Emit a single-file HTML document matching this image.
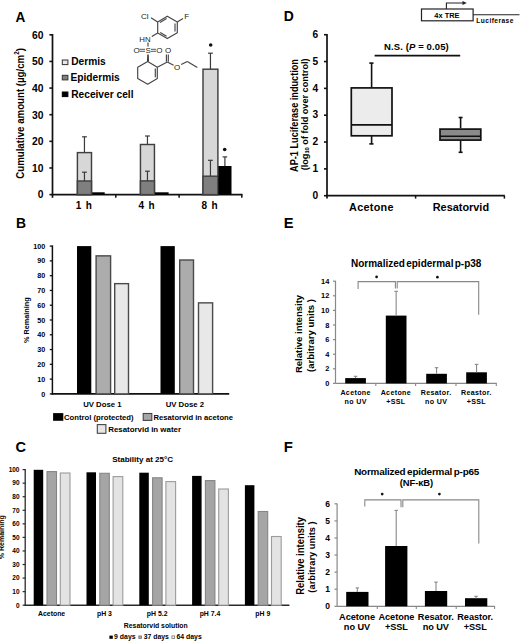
<!DOCTYPE html>
<html><head><meta charset="utf-8"><style>
html,body{margin:0;padding:0;background:#fff;}
svg{display:block;font-family:"Liberation Sans",sans-serif;}
</style></head><body>
<svg width="520" height="641" viewBox="0 0 520 641">
<rect width="520" height="641" fill="#fff"/>
<text x="0" y="0" font-size="14.8" text-anchor="start" font-weight="bold" fill="#000" transform="translate(15.60,21.50) scale(0.92,1)" >A</text>
<line x1="52.50" y1="34.00" x2="52.50" y2="197.80" stroke="#111" stroke-width="1.7" />
<line x1="49.40" y1="194.60" x2="52.50" y2="194.60" stroke="#111" stroke-width="1.6" />
<text x="0" y="0" font-size="10" text-anchor="end" font-weight="bold" fill="#000" transform="translate(43.50,198.40) scale(1.03,1)" >0</text>
<line x1="49.40" y1="167.97" x2="52.50" y2="167.97" stroke="#111" stroke-width="1.6" />
<text x="0" y="0" font-size="10" text-anchor="end" font-weight="bold" fill="#000" transform="translate(43.50,171.77) scale(1.03,1)" >10</text>
<line x1="49.40" y1="141.34" x2="52.50" y2="141.34" stroke="#111" stroke-width="1.6" />
<text x="0" y="0" font-size="10" text-anchor="end" font-weight="bold" fill="#000" transform="translate(43.50,145.14) scale(1.03,1)" >20</text>
<line x1="49.40" y1="114.71" x2="52.50" y2="114.71" stroke="#111" stroke-width="1.6" />
<text x="0" y="0" font-size="10" text-anchor="end" font-weight="bold" fill="#000" transform="translate(43.50,118.51) scale(1.03,1)" >30</text>
<line x1="49.40" y1="88.08" x2="52.50" y2="88.08" stroke="#111" stroke-width="1.6" />
<text x="0" y="0" font-size="10" text-anchor="end" font-weight="bold" fill="#000" transform="translate(43.50,91.88) scale(1.03,1)" >40</text>
<line x1="49.40" y1="61.45" x2="52.50" y2="61.45" stroke="#111" stroke-width="1.6" />
<text x="0" y="0" font-size="10" text-anchor="end" font-weight="bold" fill="#000" transform="translate(43.50,65.25) scale(1.03,1)" >50</text>
<line x1="49.40" y1="34.82" x2="52.50" y2="34.82" stroke="#111" stroke-width="1.6" />
<text x="0" y="0" font-size="10" text-anchor="end" font-weight="bold" fill="#000" transform="translate(43.50,38.62) scale(1.03,1)" >60</text>
<line x1="51.70" y1="194.60" x2="242.50" y2="194.60" stroke="#111" stroke-width="1.7" />
<line x1="115.80" y1="194.60" x2="115.80" y2="197.80" stroke="#111" stroke-width="1.5" />
<line x1="179.10" y1="194.60" x2="179.10" y2="197.80" stroke="#111" stroke-width="1.5" />
<line x1="241.80" y1="194.60" x2="241.80" y2="197.80" stroke="#111" stroke-width="1.5" />
<text x="0" y="0" font-size="9.7" text-anchor="middle" font-weight="bold" fill="#000" transform="translate(23.50,113.40) rotate(-90) scale(1,1.18)" >Cumulative amount (µg/cm<tspan font-size="6.3" dy="-3.5">2</tspan><tspan dy="3.5">)</tspan></text>
<rect x="77.40" y="152.60" width="14.10" height="42.00" fill="#d7d7d7" stroke="#404040" stroke-width="1.45"/>
<rect x="77.40" y="181.00" width="14.10" height="13.60" fill="#7f7f7f" stroke="#404040" stroke-width="1.45"/>
<rect x="92.20" y="192.30" width="12.50" height="2.30" fill="#000" stroke="none" stroke-width="1"/>
<line x1="84.45" y1="152.60" x2="84.45" y2="136.80" stroke="#3a3a3a" stroke-width="1.2" />
<line x1="82.05" y1="136.80" x2="86.85" y2="136.80" stroke="#3a3a3a" stroke-width="1.2" />
<line x1="84.45" y1="181.00" x2="84.45" y2="172.20" stroke="#3a3a3a" stroke-width="1.2" />
<line x1="82.05" y1="172.20" x2="86.85" y2="172.20" stroke="#3a3a3a" stroke-width="1.2" />
<rect x="140.45" y="144.50" width="14.00" height="50.10" fill="#d7d7d7" stroke="#404040" stroke-width="1.45"/>
<rect x="140.45" y="180.90" width="14.00" height="13.70" fill="#7f7f7f" stroke="#404040" stroke-width="1.45"/>
<rect x="155.00" y="192.30" width="13.60" height="2.30" fill="#000" stroke="none" stroke-width="1"/>
<line x1="147.45" y1="144.50" x2="147.45" y2="136.00" stroke="#3a3a3a" stroke-width="1.2" />
<line x1="145.05" y1="136.00" x2="149.85" y2="136.00" stroke="#3a3a3a" stroke-width="1.2" />
<line x1="147.45" y1="180.90" x2="147.45" y2="171.20" stroke="#3a3a3a" stroke-width="1.2" />
<line x1="145.05" y1="171.20" x2="149.85" y2="171.20" stroke="#3a3a3a" stroke-width="1.2" />
<rect x="203.00" y="69.20" width="14.90" height="125.40" fill="#d7d7d7" stroke="#404040" stroke-width="1.45"/>
<rect x="203.00" y="176.20" width="14.90" height="18.40" fill="#7f7f7f" stroke="#404040" stroke-width="1.45"/>
<rect x="218.30" y="166.00" width="13.20" height="28.60" fill="#000" stroke="none" stroke-width="1"/>
<line x1="210.45" y1="69.20" x2="210.45" y2="53.20" stroke="#3a3a3a" stroke-width="1.2" />
<line x1="208.05" y1="53.20" x2="212.85" y2="53.20" stroke="#3a3a3a" stroke-width="1.2" />
<line x1="210.45" y1="176.20" x2="210.45" y2="160.30" stroke="#3a3a3a" stroke-width="1.2" />
<line x1="208.05" y1="160.30" x2="212.85" y2="160.30" stroke="#3a3a3a" stroke-width="1.2" />
<line x1="224.90" y1="166.00" x2="224.90" y2="156.90" stroke="#3a3a3a" stroke-width="1.2" />
<line x1="222.60" y1="156.90" x2="227.20" y2="156.90" stroke="#3a3a3a" stroke-width="1.2" />
<circle cx="210.7" cy="45" r="1.8" fill="#111"/>
<circle cx="224.7" cy="149.5" r="1.8" fill="#111"/>
<rect x="62.30" y="60.00" width="5.60" height="4.60" fill="#e8e8e8" stroke="#333" stroke-width="1"/>
<rect x="62.30" y="75.30" width="5.60" height="4.60" fill="#808080" stroke="#333" stroke-width="1"/>
<rect x="62.30" y="92.00" width="5.60" height="4.60" fill="#000" stroke="#000" stroke-width="1"/>
<text x="71.20" y="64.50" font-size="10.2" text-anchor="start" font-weight="bold" fill="#000" >Dermis</text>
<text x="70.50" y="80.80" font-size="10.2" text-anchor="start" font-weight="bold" fill="#000" >Epidermis</text>
<text x="71.20" y="97.70" font-size="10.2" text-anchor="start" font-weight="bold" fill="#000" >Receiver cell</text>
<path d="M167.30,16.20 L177.30,21.90 L177.30,32.70 L167.30,38.60 L157.70,32.90 L157.70,21.90 Z" fill="none" stroke="#454545" stroke-width="1.15" stroke-linejoin="round"/>
<line x1="160.00" y1="22.40" x2="166.60" y2="18.40" stroke="#454545" stroke-width="1.15" />
<line x1="175.00" y1="23.40" x2="175.00" y2="31.40" stroke="#454545" stroke-width="1.15" />
<line x1="160.20" y1="32.40" x2="166.60" y2="36.20" stroke="#454545" stroke-width="1.15" />
<line x1="157.70" y1="21.90" x2="151.00" y2="17.80" stroke="#454545" stroke-width="1.15" />
<line x1="177.30" y1="21.90" x2="183.00" y2="18.60" stroke="#454545" stroke-width="1.15" />
<line x1="157.70" y1="32.90" x2="151.80" y2="36.60" stroke="#454545" stroke-width="1.15" />
<text x="140.90" y="19.40" font-size="8.0" text-anchor="start" font-weight="normal" fill="#222" >Cl</text>
<text x="184.30" y="18.90" font-size="8.0" text-anchor="start" font-weight="normal" fill="#222" >F</text>
<text x="139.30" y="41.70" font-size="7.8" text-anchor="start" font-weight="normal" fill="#222" >HN</text>
<line x1="148.00" y1="42.60" x2="148.00" y2="46.40" stroke="#454545" stroke-width="1.15" />
<text x="133.60" y="53.20" font-size="8.0" text-anchor="start" font-weight="normal" fill="#222" >O</text>
<text x="145.60" y="53.20" font-size="8.0" text-anchor="start" font-weight="normal" fill="#222" >S</text>
<text x="156.30" y="53.20" font-size="8.0" text-anchor="start" font-weight="normal" fill="#222" >O</text>
<line x1="139.60" y1="49.30" x2="145.00" y2="49.30" stroke="#454545" stroke-width="0.9" />
<line x1="139.60" y1="51.30" x2="145.00" y2="51.30" stroke="#454545" stroke-width="0.9" />
<line x1="151.00" y1="49.30" x2="156.00" y2="49.30" stroke="#454545" stroke-width="0.9" />
<line x1="151.00" y1="51.30" x2="156.00" y2="51.30" stroke="#454545" stroke-width="0.9" />
<path d="M147.3,54.5 L148.7,54.5 L148.9,61.5 L147.1,61.5 Z" fill="#222"/>
<path d="M147.70,61.50 L157.30,67.30 L157.30,78.50 L147.70,84.20 L137.70,78.50 L137.70,67.30 Z" fill="none" stroke="#454545" stroke-width="1.15" stroke-linejoin="round"/>
<line x1="155.30" y1="68.60" x2="155.30" y2="77.20" stroke="#454545" stroke-width="1.15" />
<line x1="157.30" y1="67.30" x2="167.30" y2="62.00" stroke="#454545" stroke-width="1.15" />
<line x1="166.40" y1="61.80" x2="166.40" y2="54.40" stroke="#454545" stroke-width="1.15" />
<line x1="168.30" y1="61.80" x2="168.30" y2="54.40" stroke="#454545" stroke-width="1.15" />
<text x="165.00" y="52.80" font-size="8.0" text-anchor="start" font-weight="normal" fill="#222" >O</text>
<line x1="167.30" y1="62.00" x2="173.60" y2="65.20" stroke="#454545" stroke-width="1.15" />
<text x="174.00" y="69.80" font-size="8.0" text-anchor="start" font-weight="normal" fill="#222" >O</text>
<line x1="181.20" y1="64.60" x2="187.30" y2="61.40" stroke="#454545" stroke-width="1.15" />
<line x1="187.30" y1="61.40" x2="197.30" y2="67.60" stroke="#454545" stroke-width="1.15" />
<text x="84.20" y="209.20" font-size="10" text-anchor="middle" font-weight="bold" fill="#000" letter-spacing="0.8">1 h</text>
<text x="147.00" y="209.20" font-size="10" text-anchor="middle" font-weight="bold" fill="#000" letter-spacing="0.8">4 h</text>
<text x="209.90" y="209.20" font-size="10" text-anchor="middle" font-weight="bold" fill="#000" letter-spacing="0.8">8 h</text>
<text x="16.10" y="227.90" font-size="13.9" text-anchor="start" font-weight="bold" fill="#000" >B</text>
<line x1="52.40" y1="245.40" x2="52.40" y2="394.70" stroke="#111" stroke-width="1.5" />
<line x1="49.80" y1="393.90" x2="52.40" y2="393.90" stroke="#111" stroke-width="1.3" />
<text x="45.30" y="396.50" font-size="7.2" text-anchor="end" font-weight="bold" fill="#000" >0</text>
<line x1="49.80" y1="379.12" x2="52.40" y2="379.12" stroke="#111" stroke-width="1.3" />
<text x="45.30" y="381.72" font-size="7.2" text-anchor="end" font-weight="bold" fill="#000" >10</text>
<line x1="49.80" y1="364.34" x2="52.40" y2="364.34" stroke="#111" stroke-width="1.3" />
<text x="45.30" y="366.94" font-size="7.2" text-anchor="end" font-weight="bold" fill="#000" >20</text>
<line x1="49.80" y1="349.56" x2="52.40" y2="349.56" stroke="#111" stroke-width="1.3" />
<text x="45.30" y="352.16" font-size="7.2" text-anchor="end" font-weight="bold" fill="#000" >30</text>
<line x1="49.80" y1="334.78" x2="52.40" y2="334.78" stroke="#111" stroke-width="1.3" />
<text x="45.30" y="337.38" font-size="7.2" text-anchor="end" font-weight="bold" fill="#000" >40</text>
<line x1="49.80" y1="320.00" x2="52.40" y2="320.00" stroke="#111" stroke-width="1.3" />
<text x="45.30" y="322.60" font-size="7.2" text-anchor="end" font-weight="bold" fill="#000" >50</text>
<line x1="49.80" y1="305.22" x2="52.40" y2="305.22" stroke="#111" stroke-width="1.3" />
<text x="45.30" y="307.82" font-size="7.2" text-anchor="end" font-weight="bold" fill="#000" >60</text>
<line x1="49.80" y1="290.44" x2="52.40" y2="290.44" stroke="#111" stroke-width="1.3" />
<text x="45.30" y="293.04" font-size="7.2" text-anchor="end" font-weight="bold" fill="#000" >70</text>
<line x1="49.80" y1="275.66" x2="52.40" y2="275.66" stroke="#111" stroke-width="1.3" />
<text x="45.30" y="278.26" font-size="7.2" text-anchor="end" font-weight="bold" fill="#000" >80</text>
<line x1="49.80" y1="260.88" x2="52.40" y2="260.88" stroke="#111" stroke-width="1.3" />
<text x="45.30" y="263.48" font-size="7.2" text-anchor="end" font-weight="bold" fill="#000" >90</text>
<line x1="49.80" y1="246.10" x2="52.40" y2="246.10" stroke="#111" stroke-width="1.3" />
<text x="45.30" y="248.70" font-size="7.2" text-anchor="end" font-weight="bold" fill="#000" >100</text>
<line x1="51.70" y1="393.90" x2="229.20" y2="393.90" stroke="#111" stroke-width="1.6" />
<text x="0" y="0" font-size="7.25" text-anchor="middle" font-weight="bold" fill="#000" transform="translate(28.80,320.20) rotate(-90)" >% Remaining</text>
<rect x="77.00" y="246.10" width="14.30" height="147.80" fill="#000" stroke="none" stroke-width="1"/>
<rect x="96.10" y="255.86" width="14.50" height="138.04" fill="#acacac" stroke="#4a4a4a" stroke-width="1.4"/>
<rect x="114.70" y="283.65" width="13.80" height="110.25" fill="#e8e8e8" stroke="#4a4a4a" stroke-width="1.4"/>
<rect x="160.50" y="246.10" width="14.30" height="147.80" fill="#000" stroke="none" stroke-width="1"/>
<rect x="179.70" y="260.00" width="13.80" height="133.90" fill="#acacac" stroke="#4a4a4a" stroke-width="1.4"/>
<rect x="198.50" y="302.86" width="14.10" height="91.04" fill="#e8e8e8" stroke="#4a4a4a" stroke-width="1.4"/>
<text x="102.30" y="406.60" font-size="7.75" text-anchor="middle" font-weight="bold" fill="#000" >UV Dose 1</text>
<text x="184.80" y="406.60" font-size="7.75" text-anchor="middle" font-weight="bold" fill="#000" >UV Dose 2</text>
<rect x="53.10" y="413.10" width="10.20" height="7.70" fill="#000" stroke="none" stroke-width="1"/>
<text x="64.00" y="420.20" font-size="7.7" text-anchor="start" font-weight="bold" fill="#000" >Control (protected)</text>
<rect x="143.20" y="413.50" width="8.60" height="6.90" fill="#a6a6a6" stroke="#444" stroke-width="1.1"/>
<text x="153.60" y="420.20" font-size="7.65" text-anchor="start" font-weight="bold" fill="#000" >Resatorvid in acetone</text>
<rect x="97.30" y="424.60" width="8.60" height="8.70" fill="#e6e6e6" stroke="#444" stroke-width="1.1"/>
<text x="108.20" y="432.40" font-size="7.9" text-anchor="start" font-weight="bold" fill="#000" >Resatorvid in water</text>
<text x="15.50" y="452.40" font-size="14.6" text-anchor="start" font-weight="bold" fill="#000" >C</text>
<line x1="25.20" y1="469.00" x2="25.20" y2="605.70" stroke="#2a2a2a" stroke-width="1.3" />
<line x1="22.60" y1="605.20" x2="25.20" y2="605.20" stroke="#2a2a2a" stroke-width="1.2" />
<text x="19.50" y="607.50" font-size="6.5" text-anchor="end" font-weight="bold" fill="#000" >0</text>
<line x1="22.60" y1="591.64" x2="25.20" y2="591.64" stroke="#2a2a2a" stroke-width="1.2" />
<text x="19.50" y="593.94" font-size="6.5" text-anchor="end" font-weight="bold" fill="#000" >10</text>
<line x1="22.60" y1="578.08" x2="25.20" y2="578.08" stroke="#2a2a2a" stroke-width="1.2" />
<text x="19.50" y="580.38" font-size="6.5" text-anchor="end" font-weight="bold" fill="#000" >20</text>
<line x1="22.60" y1="564.52" x2="25.20" y2="564.52" stroke="#2a2a2a" stroke-width="1.2" />
<text x="19.50" y="566.82" font-size="6.5" text-anchor="end" font-weight="bold" fill="#000" >30</text>
<line x1="22.60" y1="550.96" x2="25.20" y2="550.96" stroke="#2a2a2a" stroke-width="1.2" />
<text x="19.50" y="553.26" font-size="6.5" text-anchor="end" font-weight="bold" fill="#000" >40</text>
<line x1="22.60" y1="537.40" x2="25.20" y2="537.40" stroke="#2a2a2a" stroke-width="1.2" />
<text x="19.50" y="539.70" font-size="6.5" text-anchor="end" font-weight="bold" fill="#000" >50</text>
<line x1="22.60" y1="523.84" x2="25.20" y2="523.84" stroke="#2a2a2a" stroke-width="1.2" />
<text x="19.50" y="526.14" font-size="6.5" text-anchor="end" font-weight="bold" fill="#000" >60</text>
<line x1="22.60" y1="510.28" x2="25.20" y2="510.28" stroke="#2a2a2a" stroke-width="1.2" />
<text x="19.50" y="512.58" font-size="6.5" text-anchor="end" font-weight="bold" fill="#000" >70</text>
<line x1="22.60" y1="496.72" x2="25.20" y2="496.72" stroke="#2a2a2a" stroke-width="1.2" />
<text x="19.50" y="499.02" font-size="6.5" text-anchor="end" font-weight="bold" fill="#000" >80</text>
<line x1="22.60" y1="483.16" x2="25.20" y2="483.16" stroke="#2a2a2a" stroke-width="1.2" />
<text x="19.50" y="485.46" font-size="6.5" text-anchor="end" font-weight="bold" fill="#000" >90</text>
<line x1="22.60" y1="469.60" x2="25.20" y2="469.60" stroke="#2a2a2a" stroke-width="1.2" />
<text x="19.50" y="471.90" font-size="6.5" text-anchor="end" font-weight="bold" fill="#000" >100</text>
<line x1="24.60" y1="605.20" x2="289.40" y2="605.20" stroke="#2a2a2a" stroke-width="1.4" />
<text x="0" y="0" font-size="7.05" text-anchor="middle" font-weight="bold" fill="#000" transform="translate(3.70,537.20) rotate(-90)" >% Remaining</text>
<rect x="33.70" y="469.80" width="9.50" height="135.40" fill="#000" stroke="none" stroke-width="1"/>
<rect x="47.00" y="471.60" width="9.50" height="133.60" fill="#a5a5a5" stroke="#858585" stroke-width="1.1"/>
<rect x="60.30" y="473.00" width="9.70" height="132.20" fill="#e3e3e3" stroke="#9c9c9c" stroke-width="1.1"/>
<rect x="86.50" y="472.30" width="9.50" height="132.90" fill="#000" stroke="none" stroke-width="1"/>
<rect x="99.80" y="473.30" width="9.50" height="131.90" fill="#a5a5a5" stroke="#858585" stroke-width="1.1"/>
<rect x="113.10" y="476.60" width="9.70" height="128.60" fill="#e3e3e3" stroke="#9c9c9c" stroke-width="1.1"/>
<rect x="139.30" y="472.70" width="9.50" height="132.50" fill="#000" stroke="none" stroke-width="1"/>
<rect x="152.60" y="477.80" width="9.50" height="127.40" fill="#a5a5a5" stroke="#858585" stroke-width="1.1"/>
<rect x="165.90" y="481.60" width="9.70" height="123.60" fill="#e3e3e3" stroke="#9c9c9c" stroke-width="1.1"/>
<rect x="192.10" y="475.90" width="9.50" height="129.30" fill="#000" stroke="none" stroke-width="1"/>
<rect x="205.40" y="480.60" width="9.50" height="124.60" fill="#a5a5a5" stroke="#858585" stroke-width="1.1"/>
<rect x="218.70" y="489.00" width="9.70" height="116.20" fill="#e3e3e3" stroke="#9c9c9c" stroke-width="1.1"/>
<rect x="244.90" y="485.20" width="9.50" height="120.00" fill="#000" stroke="none" stroke-width="1"/>
<rect x="258.20" y="511.50" width="9.50" height="93.70" fill="#a5a5a5" stroke="#858585" stroke-width="1.1"/>
<rect x="271.50" y="536.50" width="9.70" height="68.70" fill="#e3e3e3" stroke="#9c9c9c" stroke-width="1.1"/>
<text x="142.60" y="462.20" font-size="8.05" text-anchor="middle" font-weight="bold" fill="#000" >Stability at 25°C</text>
<text x="51.60" y="615.80" font-size="6.9" text-anchor="middle" font-weight="bold" fill="#000" >Acetone</text>
<text x="104.40" y="615.80" font-size="6.9" text-anchor="middle" font-weight="bold" fill="#000" >pH 3</text>
<text x="157.20" y="615.80" font-size="6.9" text-anchor="middle" font-weight="bold" fill="#000" >pH 5.2</text>
<text x="210.00" y="615.80" font-size="6.9" text-anchor="middle" font-weight="bold" fill="#000" >pH 7.4</text>
<text x="262.80" y="615.80" font-size="6.9" text-anchor="middle" font-weight="bold" fill="#000" >pH 9</text>
<text x="155.80" y="628.20" font-size="6.85" text-anchor="middle" font-weight="bold" fill="#000" >Resatorvid solution</text>
<rect x="109.40" y="635.60" width="3.40" height="3.20" fill="#000" stroke="none" stroke-width="1"/>
<text x="114.10" y="639.40" font-size="6.9" text-anchor="start" font-weight="bold" fill="#000" >9 days</text>
<rect x="138.80" y="635.90" width="2.80" height="2.70" fill="#a3a3a3" stroke="#666" stroke-width="0.7"/>
<text x="143.70" y="639.40" font-size="6.85" text-anchor="start" font-weight="bold" fill="#000" >37 days</text>
<rect x="171.90" y="635.90" width="2.80" height="2.70" fill="#f4f4f4" stroke="#666" stroke-width="0.7"/>
<text x="176.50" y="639.40" font-size="6.9" text-anchor="start" font-weight="bold" fill="#000" >64 days</text>
<text x="283.70" y="21.20" font-size="13.9" text-anchor="start" font-weight="bold" fill="#000" >D</text>
<line x1="327.00" y1="34.00" x2="327.00" y2="198.60" stroke="#111" stroke-width="1.7" />
<line x1="324.00" y1="195.70" x2="327.00" y2="195.70" stroke="#111" stroke-width="1.6" />
<text x="318.20" y="198.90" font-size="10.2" text-anchor="end" font-weight="bold" fill="#000" >0</text>
<line x1="324.00" y1="168.87" x2="327.00" y2="168.87" stroke="#111" stroke-width="1.6" />
<text x="318.20" y="172.07" font-size="10.2" text-anchor="end" font-weight="bold" fill="#000" >1</text>
<line x1="324.00" y1="142.04" x2="327.00" y2="142.04" stroke="#111" stroke-width="1.6" />
<text x="318.20" y="145.24" font-size="10.2" text-anchor="end" font-weight="bold" fill="#000" >2</text>
<line x1="324.00" y1="115.21" x2="327.00" y2="115.21" stroke="#111" stroke-width="1.6" />
<text x="318.20" y="118.41" font-size="10.2" text-anchor="end" font-weight="bold" fill="#000" >3</text>
<line x1="324.00" y1="88.38" x2="327.00" y2="88.38" stroke="#111" stroke-width="1.6" />
<text x="318.20" y="91.58" font-size="10.2" text-anchor="end" font-weight="bold" fill="#000" >4</text>
<line x1="324.00" y1="61.55" x2="327.00" y2="61.55" stroke="#111" stroke-width="1.6" />
<text x="318.20" y="64.75" font-size="10.2" text-anchor="end" font-weight="bold" fill="#000" >5</text>
<line x1="324.00" y1="34.72" x2="327.00" y2="34.72" stroke="#111" stroke-width="1.6" />
<text x="318.20" y="37.92" font-size="10.2" text-anchor="end" font-weight="bold" fill="#000" >6</text>
<line x1="326.20" y1="195.70" x2="504.80" y2="195.70" stroke="#111" stroke-width="1.7" />
<line x1="415.60" y1="195.70" x2="415.60" y2="198.60" stroke="#111" stroke-width="1.5" />
<line x1="504.40" y1="195.70" x2="504.40" y2="198.60" stroke="#111" stroke-width="1.5" />
<text x="0" y="0" font-size="9.15" text-anchor="middle" font-weight="bold" fill="#000" transform="translate(298.10,115.50) rotate(-90) scale(1,1.1)" >AP-1 Luciferase induction</text>
<text x="0" y="0" font-size="9.15" text-anchor="middle" font-weight="bold" fill="#000" transform="translate(307.80,114.40) rotate(-90)" >(log<tspan font-size="5.8" dy="1.5">10</tspan><tspan dy="-1.5"> of fold over control)</tspan></text>
<line x1="371.60" y1="87.60" x2="371.60" y2="63.10" stroke="#111" stroke-width="1.6" />
<line x1="369.30" y1="63.10" x2="373.50" y2="63.10" stroke="#111" stroke-width="1.6" />
<line x1="371.60" y1="135.70" x2="371.60" y2="143.90" stroke="#111" stroke-width="1.6" />
<line x1="369.30" y1="143.90" x2="373.50" y2="143.90" stroke="#111" stroke-width="1.6" />
<rect x="351.30" y="87.90" width="40.70" height="47.90" fill="#ececec" stroke="#111" stroke-width="1.7"/>
<line x1="351.30" y1="124.80" x2="392.00" y2="124.80" stroke="#111" stroke-width="1.7" />
<line x1="460.60" y1="128.30" x2="460.60" y2="117.50" stroke="#111" stroke-width="1.6" />
<line x1="458.60" y1="117.50" x2="462.60" y2="117.50" stroke="#111" stroke-width="1.6" />
<line x1="460.60" y1="140.80" x2="460.60" y2="152.30" stroke="#111" stroke-width="1.6" />
<line x1="458.60" y1="152.30" x2="462.60" y2="152.30" stroke="#111" stroke-width="1.6" />
<rect x="440.00" y="129.10" width="40.80" height="11.00" fill="#8a8a8a" stroke="#111" stroke-width="1.7"/>
<line x1="440.00" y1="136.30" x2="480.80" y2="136.30" stroke="#111" stroke-width="1.6" />
<line x1="374.60" y1="55.60" x2="460.20" y2="55.60" stroke="#111" stroke-width="1.7" />
<text x="416.40" y="50.00" font-size="9.5" text-anchor="middle" font-weight="bold" fill="#000" letter-spacing="0.12">N.S. (<tspan font-style="italic">P</tspan> = 0.05)</text>
<text x="371.40" y="211.30" font-size="10.8" text-anchor="middle" font-weight="bold" fill="#000" letter-spacing="0.3">Acetone</text>
<text x="460.90" y="211.30" font-size="10.9" text-anchor="middle" font-weight="bold" fill="#000" >Resatorvid</text>
<rect x="421.50" y="9.00" width="51.60" height="11.80" fill="#fff" stroke="#222" stroke-width="1.2"/>
<line x1="473.10" y1="14.80" x2="519.50" y2="14.80" stroke="#222" stroke-width="1.1" />
<path d="M446.4,9 L446.4,3 L464,3" fill="none" stroke="#222" stroke-width="1.1"/>
<path d="M466.8,3 L462.5,0.9 L462.5,5.1 Z" fill="#222"/>
<text x="446.90" y="17.60" font-size="7.4" text-anchor="middle" font-weight="bold" fill="#000" >4x TRE</text>
<text x="495.10" y="23.30" font-size="6.6" text-anchor="middle" font-weight="bold" fill="#000" letter-spacing="0.45">Luciferase</text>
<text x="283.70" y="228.00" font-size="14.7" text-anchor="start" font-weight="bold" fill="#000" >E</text>
<text x="416.20" y="267.00" font-size="10" text-anchor="middle" font-weight="bold" fill="#000" word-spacing="-1.5">Normalized epidermal p-p38</text>
<line x1="335.50" y1="280.80" x2="335.50" y2="383.40" stroke="#888" stroke-width="1.2" />
<line x1="333.00" y1="383.40" x2="335.50" y2="383.40" stroke="#888" stroke-width="1.2" />
<text x="329.30" y="386.00" font-size="7.4" text-anchor="end" font-weight="bold" fill="#000" >0</text>
<line x1="333.00" y1="368.80" x2="335.50" y2="368.80" stroke="#888" stroke-width="1.2" />
<text x="329.30" y="371.40" font-size="7.4" text-anchor="end" font-weight="bold" fill="#000" >2</text>
<line x1="333.00" y1="354.20" x2="335.50" y2="354.20" stroke="#888" stroke-width="1.2" />
<text x="329.30" y="356.80" font-size="7.4" text-anchor="end" font-weight="bold" fill="#000" >4</text>
<line x1="333.00" y1="339.60" x2="335.50" y2="339.60" stroke="#888" stroke-width="1.2" />
<text x="329.30" y="342.20" font-size="7.4" text-anchor="end" font-weight="bold" fill="#000" >6</text>
<line x1="333.00" y1="325.00" x2="335.50" y2="325.00" stroke="#888" stroke-width="1.2" />
<text x="329.30" y="327.60" font-size="7.4" text-anchor="end" font-weight="bold" fill="#000" >8</text>
<line x1="333.00" y1="310.40" x2="335.50" y2="310.40" stroke="#888" stroke-width="1.2" />
<text x="329.30" y="313.00" font-size="7.4" text-anchor="end" font-weight="bold" fill="#000" >10</text>
<line x1="333.00" y1="295.80" x2="335.50" y2="295.80" stroke="#888" stroke-width="1.2" />
<text x="329.30" y="298.40" font-size="7.4" text-anchor="end" font-weight="bold" fill="#000" >12</text>
<line x1="333.00" y1="281.20" x2="335.50" y2="281.20" stroke="#888" stroke-width="1.2" />
<text x="329.30" y="283.80" font-size="7.4" text-anchor="end" font-weight="bold" fill="#000" >14</text>
<line x1="335.50" y1="383.40" x2="496.80" y2="383.40" stroke="#888" stroke-width="1.2" />
<line x1="375.80" y1="383.40" x2="375.80" y2="386.00" stroke="#888" stroke-width="1.1" />
<line x1="415.60" y1="383.40" x2="415.60" y2="386.00" stroke="#888" stroke-width="1.1" />
<line x1="456.00" y1="383.40" x2="456.00" y2="386.00" stroke="#888" stroke-width="1.1" />
<line x1="496.30" y1="383.40" x2="496.30" y2="386.00" stroke="#888" stroke-width="1.1" />
<rect x="345.20" y="378.10" width="20.70" height="5.30" fill="#000" stroke="none" stroke-width="1"/>
<line x1="355.55" y1="378.10" x2="355.55" y2="376.30" stroke="#888" stroke-width="1.1" />
<line x1="353.75" y1="376.30" x2="357.35" y2="376.30" stroke="#888" stroke-width="1.1" />
<rect x="385.80" y="315.60" width="20.70" height="67.80" fill="#000" stroke="none" stroke-width="1"/>
<line x1="396.15" y1="315.60" x2="396.15" y2="291.30" stroke="#888" stroke-width="1.1" />
<line x1="394.35" y1="291.30" x2="397.95" y2="291.30" stroke="#888" stroke-width="1.1" />
<rect x="426.20" y="373.80" width="20.70" height="9.60" fill="#000" stroke="none" stroke-width="1"/>
<line x1="436.55" y1="373.80" x2="436.55" y2="367.70" stroke="#888" stroke-width="1.1" />
<line x1="434.75" y1="367.70" x2="438.35" y2="367.70" stroke="#888" stroke-width="1.1" />
<rect x="466.20" y="372.30" width="20.70" height="11.10" fill="#000" stroke="none" stroke-width="1"/>
<line x1="476.55" y1="372.30" x2="476.55" y2="364.40" stroke="#888" stroke-width="1.1" />
<line x1="474.75" y1="364.40" x2="478.35" y2="364.40" stroke="#888" stroke-width="1.1" />
<path d="M358.1,289 L358.1,281.6 L395.4,281.6 L395.4,288.6" fill="none" stroke="#888" stroke-width="1.1"/>
<path d="M397.2,288.6 L397.2,281.6 L478.7,281.6 L478.7,314.8" fill="none" stroke="#888" stroke-width="1.1"/>
<circle cx="376.6" cy="276.9" r="1.35" fill="#111"/>
<circle cx="437.4" cy="277.2" r="1.35" fill="#111"/>
<text x="355.60" y="395.30" font-size="7.1" text-anchor="middle" font-weight="bold" fill="#000" letter-spacing="0.35">Acetone</text>
<text x="355.60" y="404.30" font-size="7.1" text-anchor="middle" font-weight="bold" fill="#000" letter-spacing="0.35">no UV</text>
<text x="395.85" y="395.30" font-size="7.1" text-anchor="middle" font-weight="bold" fill="#000" letter-spacing="0.35">Acetone</text>
<text x="395.85" y="404.30" font-size="7.1" text-anchor="middle" font-weight="bold" fill="#000" letter-spacing="0.35">+SSL</text>
<text x="436.10" y="395.30" font-size="7.1" text-anchor="middle" font-weight="bold" fill="#000" letter-spacing="0.35">Resator.</text>
<text x="436.10" y="404.30" font-size="7.1" text-anchor="middle" font-weight="bold" fill="#000" letter-spacing="0.35">no UV</text>
<text x="476.35" y="395.30" font-size="7.1" text-anchor="middle" font-weight="bold" fill="#000" letter-spacing="0.35">Reastor.</text>
<text x="476.35" y="404.30" font-size="7.1" text-anchor="middle" font-weight="bold" fill="#000" letter-spacing="0.35">+SSL</text>
<text x="0" y="0" font-size="9.5" text-anchor="middle" font-weight="bold" fill="#000" transform="translate(302.30,334.00) rotate(-90)" >Relative intensity</text>
<text x="0" y="0" font-size="9.5" text-anchor="middle" font-weight="bold" fill="#000" transform="translate(314.40,335.50) rotate(-90)" >(arbitrary units )</text>
<text x="283.70" y="452.20" font-size="14.9" text-anchor="start" font-weight="bold" fill="#000" >F</text>
<text x="416.60" y="475.00" font-size="9.9" text-anchor="middle" font-weight="bold" fill="#000" letter-spacing="-0.2" word-spacing="-0.8">Normalized epidermal p-p65</text>
<text x="416.40" y="486.40" font-size="9.4" text-anchor="middle" font-weight="bold" fill="#000" letter-spacing="-0.1">(NF-κB)</text>
<line x1="337.10" y1="503.40" x2="337.10" y2="606.30" stroke="#888" stroke-width="1.2" />
<line x1="334.50" y1="606.30" x2="337.10" y2="606.30" stroke="#888" stroke-width="1.2" />
<text x="330.20" y="609.30" font-size="8.5" text-anchor="end" font-weight="bold" fill="#000" letter-spacing="0.3">0</text>
<line x1="334.50" y1="589.22" x2="337.10" y2="589.22" stroke="#888" stroke-width="1.2" />
<text x="330.20" y="592.22" font-size="8.5" text-anchor="end" font-weight="bold" fill="#000" letter-spacing="0.3">1</text>
<line x1="334.50" y1="572.14" x2="337.10" y2="572.14" stroke="#888" stroke-width="1.2" />
<text x="330.20" y="575.14" font-size="8.5" text-anchor="end" font-weight="bold" fill="#000" letter-spacing="0.3">2</text>
<line x1="334.50" y1="555.06" x2="337.10" y2="555.06" stroke="#888" stroke-width="1.2" />
<text x="330.20" y="558.06" font-size="8.5" text-anchor="end" font-weight="bold" fill="#000" letter-spacing="0.3">3</text>
<line x1="334.50" y1="537.98" x2="337.10" y2="537.98" stroke="#888" stroke-width="1.2" />
<text x="330.20" y="540.98" font-size="8.5" text-anchor="end" font-weight="bold" fill="#000" letter-spacing="0.3">4</text>
<line x1="334.50" y1="520.90" x2="337.10" y2="520.90" stroke="#888" stroke-width="1.2" />
<text x="330.20" y="523.90" font-size="8.5" text-anchor="end" font-weight="bold" fill="#000" letter-spacing="0.3">5</text>
<line x1="334.50" y1="503.82" x2="337.10" y2="503.82" stroke="#888" stroke-width="1.2" />
<text x="330.20" y="506.82" font-size="8.5" text-anchor="end" font-weight="bold" fill="#000" letter-spacing="0.3">6</text>
<line x1="337.10" y1="606.30" x2="495.00" y2="606.30" stroke="#888" stroke-width="1.2" />
<line x1="377.30" y1="606.30" x2="377.30" y2="609.00" stroke="#888" stroke-width="1.1" />
<line x1="416.30" y1="606.30" x2="416.30" y2="609.00" stroke="#888" stroke-width="1.1" />
<line x1="456.20" y1="606.30" x2="456.20" y2="609.00" stroke="#888" stroke-width="1.1" />
<line x1="494.60" y1="606.30" x2="494.60" y2="609.00" stroke="#888" stroke-width="1.1" />
<rect x="346.20" y="591.90" width="22.30" height="14.40" fill="#000" stroke="none" stroke-width="1"/>
<line x1="357.30" y1="591.90" x2="357.30" y2="587.90" stroke="#888" stroke-width="1.1" />
<line x1="355.60" y1="587.90" x2="359.00" y2="587.90" stroke="#888" stroke-width="1.1" />
<rect x="385.10" y="546.00" width="22.30" height="60.30" fill="#000" stroke="none" stroke-width="1"/>
<line x1="396.20" y1="546.00" x2="396.20" y2="510.40" stroke="#888" stroke-width="1.1" />
<line x1="394.50" y1="510.40" x2="397.90" y2="510.40" stroke="#888" stroke-width="1.1" />
<rect x="424.90" y="591.00" width="22.30" height="15.30" fill="#000" stroke="none" stroke-width="1"/>
<line x1="436.00" y1="591.00" x2="436.00" y2="582.10" stroke="#888" stroke-width="1.1" />
<line x1="434.30" y1="582.10" x2="437.70" y2="582.10" stroke="#888" stroke-width="1.1" />
<rect x="465.00" y="598.20" width="22.30" height="8.10" fill="#000" stroke="none" stroke-width="1"/>
<line x1="476.10" y1="598.20" x2="476.10" y2="596.30" stroke="#888" stroke-width="1.1" />
<line x1="474.40" y1="596.30" x2="477.80" y2="596.30" stroke="#888" stroke-width="1.1" />
<path d="M364.8,506.6 L364.8,499.9 L401.0,499.9 L401.0,507.3" fill="none" stroke="#888" stroke-width="1.1"/>
<path d="M402.8,507.3 L402.8,499.9 L478.8,499.9 L478.8,543.4" fill="none" stroke="#888" stroke-width="1.1"/>
<circle cx="382.2" cy="494.1" r="1.35" fill="#111"/>
<circle cx="439.4" cy="494.1" r="1.35" fill="#111"/>
<text x="357.00" y="620.30" font-size="9.2" text-anchor="middle" font-weight="bold" fill="#000" letter-spacing="-0.05">Acetone</text>
<text x="357.00" y="630.30" font-size="9.2" text-anchor="middle" font-weight="bold" fill="#000" letter-spacing="-0.05">no UV</text>
<text x="396.40" y="620.30" font-size="9.2" text-anchor="middle" font-weight="bold" fill="#000" letter-spacing="-0.05">Acetone</text>
<text x="396.40" y="630.30" font-size="9.2" text-anchor="middle" font-weight="bold" fill="#000" letter-spacing="-0.05">+SSL</text>
<text x="435.80" y="620.30" font-size="9.2" text-anchor="middle" font-weight="bold" fill="#000" letter-spacing="-0.05">Resator.</text>
<text x="435.80" y="630.30" font-size="9.2" text-anchor="middle" font-weight="bold" fill="#000" letter-spacing="-0.05">no UV</text>
<text x="475.20" y="620.30" font-size="9.2" text-anchor="middle" font-weight="bold" fill="#000" letter-spacing="-0.05">Reastor.</text>
<text x="475.20" y="630.30" font-size="9.2" text-anchor="middle" font-weight="bold" fill="#000" letter-spacing="-0.05">+SSL</text>
<text x="0" y="0" font-size="9.45" text-anchor="middle" font-weight="bold" fill="#000" transform="translate(304.40,555.90) rotate(-90) scale(1,1.12)" >Relative intensity</text>
<text x="0" y="0" font-size="9.3" text-anchor="middle" font-weight="bold" fill="#000" transform="translate(314.90,557.00) rotate(-90)" >(arbitrary units )</text>
</svg></body></html>
